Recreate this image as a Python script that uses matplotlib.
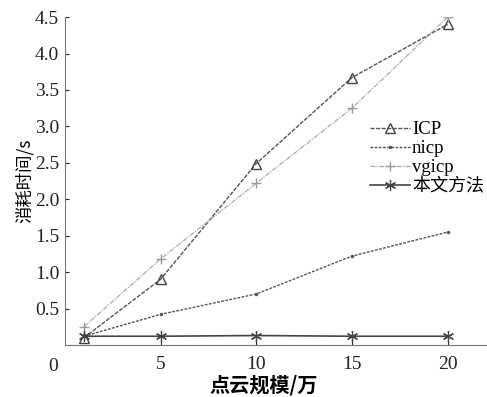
import matplotlib
matplotlib.use("Agg")
import matplotlib.pyplot as plt

x = [1, 5, 10, 15, 20]
icp = [0.10, 0.90, 2.49, 3.67, 4.40]
nicp = [0.12, 0.42, 0.70, 1.22, 1.55]
vgicp = [0.25, 1.18, 2.22, 3.25, 4.50]
ours = [0.12, 0.12, 0.13, 0.12, 0.12]
labels = ["ICP", "nicp", "vgicp", "本文方法"]
xticks = [5, 10, 15, 20]
yticks = [0.5, 1.0, 1.5, 2.0, 2.5, 3.0, 3.5, 4.0, 4.5]

plt.rcParams['font.family'] = ['Liberation Serif', 'Noto Sans CJK SC']
fig = plt.figure(figsize=(4.87, 3.97), dpi=100)
ax = fig.add_axes([0.133, 0.131, 0.865, 0.826])

ax.plot(x, icp, color='#555555', lw=1.0, ls=(0, (3, 1)), marker='^', ms=7,
        mfc='none', mec='#444444', label=labels[0])
ax.plot(x, nicp, color='#555555', lw=1.0, ls=(0, (2, 1)), marker='.', ms=3,
        label=labels[1])
ax.plot(x, vgicp, color='#aaaaaa', lw=0.9, ls=(0, (4, 1, 1, 1)), marker='+', ms=7,
        mec='#999999', label=labels[2])
ax.plot(x, ours, color='#444444', lw=1.2, ls='-', marker=(6, 2, 0), ms=8,
        mec='#444444', mew=0.9, label=labels[3])

ax.set_xlim(0, 22)
ax.set_ylim(0, 4.5)
ax.set_xticks(xticks)
ax.set_yticks(yticks)
ax.set_yticklabels([f"{v:.1f}" for v in yticks])
ax.tick_params(direction='in', length=3, labelsize=14, colors='#222222')
ax.tick_params(axis='x', pad=8)
ax.tick_params(axis='y', pad=4)
for s in ['top', 'right']:
    ax.spines[s].set_visible(False)
for s in ['left', 'bottom']:
    ax.spines[s].set_color('#777777')
    ax.spines[s].set_linestyle((0, (2, 1)))
ax.text(-0.6, -0.18, "0", ha='center', va='top', fontsize=14, color='#222222')

ax.set_xlabel("点云规模/万", fontsize=14.5, fontweight='bold',
              family=['Noto Sans CJK SC'])
ax.xaxis.label.set_va('center')
ax.xaxis.set_label_coords(0.473, -0.122)
ax.set_ylabel("消耗时间/s", fontsize=12.5, fontweight='normal',
              family=['Noto Sans CJK SC', 'DejaVu Sans'])
ax.yaxis.label.set_va('center')
ax.yaxis.set_label_coords(-0.095, 0.5)

leg = ax.legend(loc='upper left', bbox_to_anchor=(0.724, 0.683), frameon=False,
                fontsize=13.5, handlelength=2.15, handletextpad=0.1,
                labelspacing=0.1, borderpad=0, borderaxespad=0)
for t in leg.get_texts():
    t.set_family(['Liberation Serif', 'Noto Sans CJK SC'])
leg.get_texts()[3].set_fontsize(13)

fig.savefig("out.png", dpi=100)
